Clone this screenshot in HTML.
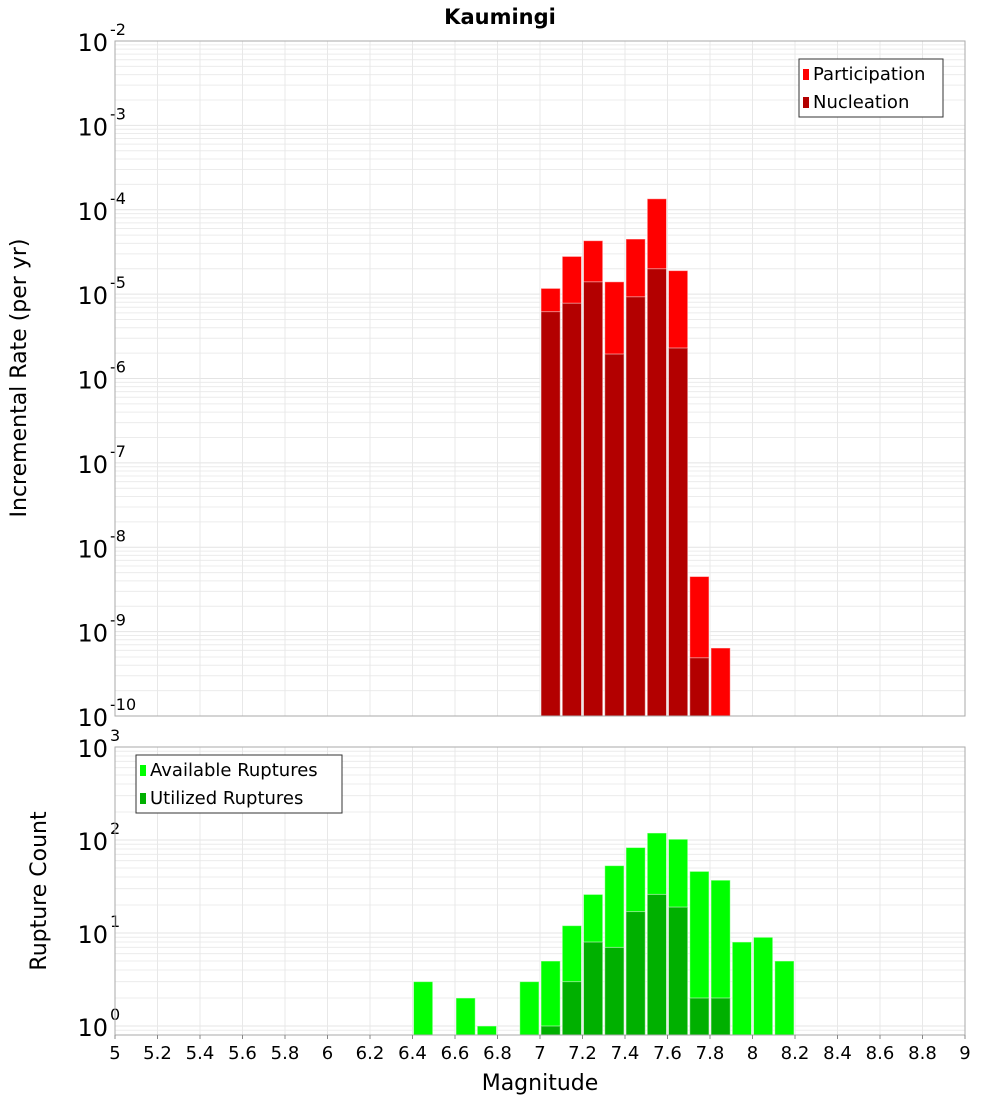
<!DOCTYPE html>
<html><head><meta charset="utf-8"><style>
body{margin:0;background:#fff;}
svg{display:block;font-family:"Liberation Sans","DejaVu Sans",sans-serif;}
</style></head><body>
<svg id="chart" width="1000" height="1100" viewBox="0 0 1000 1100">
<text x="500" y="24" text-anchor="middle" font-size="21" font-weight="bold" font-family="DejaVu Sans, sans-serif">Kaumingi</text>
<g id="topPanel"></g>
<g id="botPanel"></g>
<text transform="translate(26,378) rotate(-90)" text-anchor="middle" font-size="22" font-family="DejaVu Sans, sans-serif">Incremental Rate (per yr)</text>
<text transform="translate(46,891) rotate(-90)" text-anchor="middle" font-size="22" font-family="DejaVu Sans, sans-serif">Rupture Count</text>
<text x="540" y="1090" text-anchor="middle" font-size="22" font-family="DejaVu Sans, sans-serif">Magnitude</text>
</svg>
<script>
const mags = [7.0,7.1,7.2,7.3,7.4,7.5,7.6,7.7,7.8];
const participation = [1.17e-5,2.8e-5,4.3e-5,1.4e-5,4.5e-5,1.35e-4,1.9e-5,4.5e-9,6.4e-10];
const nucleation = [6.2e-6,7.8e-6,1.4e-5,1.95e-6,9.3e-6,2.0e-5,2.3e-6,4.9e-10,0];
const countMags = [6.4,6.6,6.7,6.9,7.0,7.1,7.2,7.3,7.4,7.5,7.6,7.7,7.8,7.9,8.0,8.1];
const available = [3,2,1,3,5,12,26,53,83,119,102,46,37,8,9,5];
const utilized = [0,0,0,0,1,3,8,7,17,26,19,2,2,0,0,0];
const xTicks = ["5","5.2","5.4","5.6","5.8","6","6.2","6.4","6.6","6.8","7","7.2","7.4","7.6","7.8","8","8.2","8.4","8.6","8.8","9"];

const NS="http://www.w3.org/2000/svg";
const X0=115,X1=965;
const xs=m=>X0+(m-5)/4*(X1-X0);
function mk(p,tag,at){const e=document.createElementNS(NS,tag);for(const k in at)e.setAttribute(k,at[k]);p.appendChild(e);return e;}
function panel(g,t0,b0,lmin,lmax,yOf,lbl){
  mk(g,'rect',{x:X0,y:t0,width:X1-X0,height:b0-t0,fill:'#fff'});
  for(let d=Math.floor(lmin);d<=lmax;d++){for(let k=1;k<10;k++){const v=d+Math.log10(k);if(v<lmin||v>lmax)continue;const y=yOf(v);
    mk(g,'line',{x1:X0,x2:X1,y1:y,y2:y,stroke:k==1?'#e4e4e4':'#ececec','stroke-width':1});}}
  for(let i=0;i<xTicks.length;i++){const x=xs(+xTicks[i]);mk(g,'line',{x1:x,x2:x,y1:t0,y2:b0,stroke:'#e8e8e8'});}
  for(let d=Math.ceil(lmin);d<=lmax;d++){const y=yOf(d);
    const t=mk(g,'text',{x:108,y:y+10,'text-anchor':'end','font-size':24,'font-family':'DejaVu Sans, sans-serif'});
    
    
    t.textContent='10';
    const s=mk(g,'text',{x:110,y:y-6,'font-size':16,'font-family':'DejaVu Sans, sans-serif'});
    
    
    s.textContent=String(d);}
}
const gTop=document.getElementById('topPanel'),gBot=document.getElementById('botPanel');
const T0=41,T1=716;const yT=v=>T1-(v+10)/8*(T1-T0);
panel(gTop,T0,T1,-10,-2,yT,'rate');
const bw=(X1-X0)/40;
function bar(g,m,v,yf,base,col,name){if(!(v>0))return;const y=yf(Math.log10(v));
  const r=mk(g,'rect',{x:xs(m)+1,y:y,width:bw-2,height:base-y,fill:col,stroke:'rgba(255,255,255,0.5)','stroke-width':1});
  
  }
mags.forEach((m,i)=>bar(gTop,m,participation[i],yT,T1,'#ff0000','participation-bar'));
mags.forEach((m,i)=>bar(gTop,m,nucleation[i],yT,T1,'#b30000','nucleation-bar'));
mk(gTop,'rect',{x:X0,y:T0,width:X1-X0,height:T1-T0,fill:'none',stroke:'#aaa'});
const B0=747,B1=1035;const yB=v=>1026-v*93;
panel(gBot,B0,B1,Math.log10(0.8),3,yB,'count');
countMags.forEach((m,i)=>bar(gBot,m,available[i],yB,B1,'#00ff00','available-bar'));
countMags.forEach((m,i)=>bar(gBot,m,utilized[i],yB,B1,'#00b000','utilized-bar'));
mk(gBot,'rect',{x:X0,y:B0,width:X1-X0,height:B1-B0,fill:'none',stroke:'#aaa'});
xTicks.forEach(t=>{const x=xs(+t);mk(gBot,'line',{x1:x,x2:x,y1:B1,y2:B1+4,stroke:'#888'});
  const e=mk(gBot,'text',{x:x,y:1059,'text-anchor':'middle','font-size':18,'font-family':'DejaVu Sans, sans-serif'});
  
  
  e.textContent=t;});
function legend(g,x,y,w,items,name){const lg=mk(g,'g',{});
  
  
  mk(lg,'rect',{x:x,y:y,width:w,height:58,fill:'#fff',stroke:'#333'});
  items.forEach((it,i)=>{mk(lg,'rect',{x:x+4,y:y+10+i*28,width:6,height:11,fill:it[1]});
    const t=mk(lg,'text',{x:x+14,y:y+21+i*28,'font-size':18,'font-family':'DejaVu Sans, sans-serif'});
    
    
    t.textContent=it[0];});}
legend(gTop,799,59,144,[['Participation','#ff0000'],['Nucleation','#b30000']],'rate-legend');
legend(gBot,136,755,206,[['Available Ruptures','#00ff00'],['Utilized Ruptures','#00b000']],'count-legend');
</script>
</body></html>
